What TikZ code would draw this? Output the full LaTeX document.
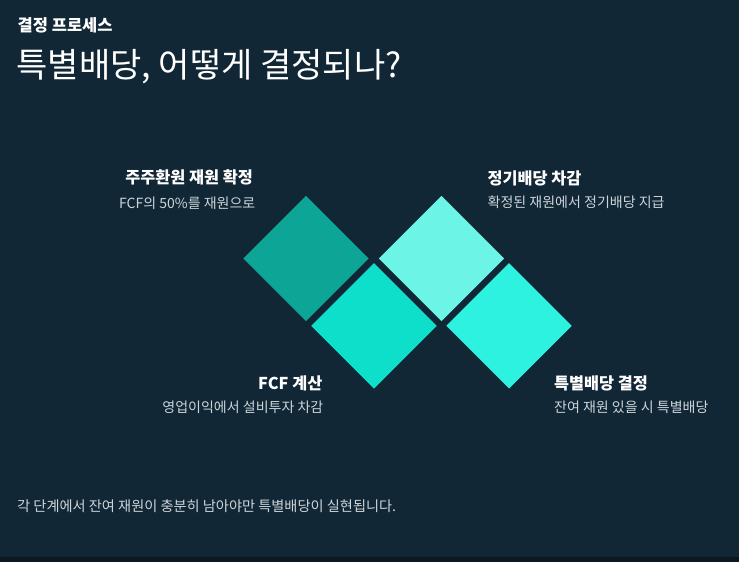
\documentclass[tikz,border=0pt]{standalone}
\usepackage{fontspec}
\setmainfont{Noto Sans CJK KR}
\usetikzlibrary{shapes.geometric}
\definecolor{bg}{HTML}{112735}
\definecolor{strip}{HTML}{0A1820}
\definecolor{subtx}{HTML}{CDD5DA}
\definecolor{dA}{HTML}{0CA596}
\definecolor{dB}{HTML}{0DDFCB}
\definecolor{dC}{HTML}{6CF5E6}
\definecolor{dD}{HTML}{2EF2E0}
\tikzset{
  tile/.style={diamond, aspect=1, minimum width=125.4pt, minimum height=125.4pt, inner sep=0pt, outer sep=0pt, draw=none},
  head/.style={inner sep=0pt, text=white, font=\fontsize{16.3}{19}\selectfont\bfseries},
  subt/.style={inner sep=0pt, text=subtx, font=\fontsize{14}{17}\selectfont},
}
\begin{document}
\begin{tikzpicture}[x=1pt,y=-1pt]
\fill[bg] (0,0) rectangle (739,562);
\fill[strip] (0,557) rectangle (739,562);
\useasboundingbox (0,0) rectangle (739,562);

\node[inner sep=0pt, anchor=base west, text=white, font=\fontsize{16.5}{19}\selectfont\bfseries] (kicker) at (17.5,31.6) {결정 프로세스};
\node[inner sep=0pt, anchor=base west, text=white, font=\fontsize{34}{40}\selectfont] (title) at (16.5,77) {특별배당, 어떻게 결정되나?};

\node[tile, fill=dA] (d1) at (306,258.5) {};
\node[tile, fill=dB] (d2) at (374,325.8) {};
\node[tile, fill=dC] (d3) at (441.5,258.5) {};
\node[tile, fill=dD] (d4) at (509,325.8) {};

\node[head, anchor=base east] (h1) at (253,183.5) {주주환원 재원 확정};
\node[subt, anchor=base east] (s1) at (255.5,208.6) {FCF의 50\%를 재원으로};

\node[head, anchor=base west] (h3) at (487.5,184.5) {정기배당 차감};
\node[subt, anchor=base west] (s3) at (487.5,207.6) {확정된 재원에서 정기배당 지급};

\node[head, anchor=base east] (h2) at (322.5,389.5) {FCF 계산};
\node[subt, anchor=base east] (s2) at (323.5,412.6) {영업이익에서 설비투자 차감};

\node[head, anchor=base west] (h4) at (554,389.5) {특별배당 결정};
\node[subt, anchor=base west] (s4) at (554,412.6) {잔여 재원 있을 시 특별배당};

\node[subt, anchor=base west, font=\fontsize{14.2}{17}\selectfont] (foot) at (17,511.7) {각 단계에서 잔여 재원이 충분히 남아야만 특별배당이 실현됩니다.};
\end{tikzpicture}
\end{document}
